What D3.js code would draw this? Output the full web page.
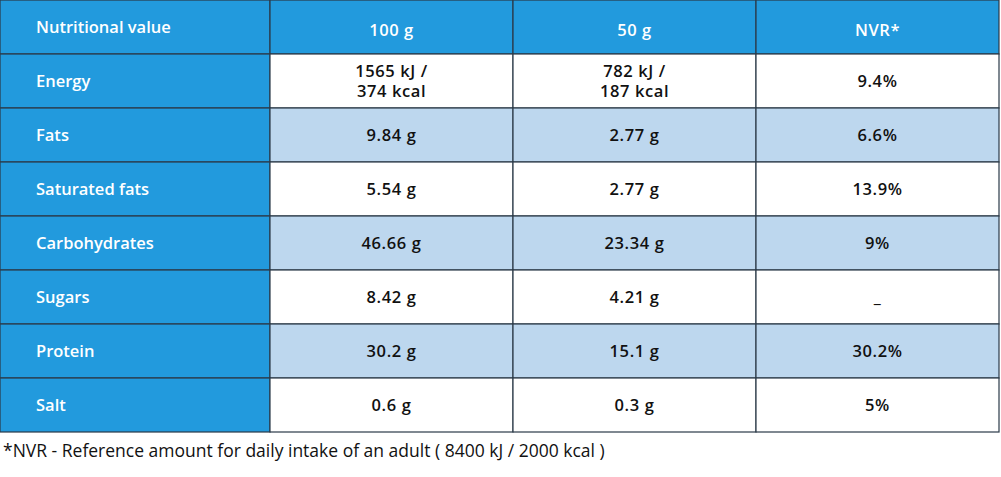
<!DOCTYPE html>
<html><head><meta charset="utf-8">
<script src="https://cdn.jsdelivr.net/npm/d3@7"></script>
<style>body{margin:0;background:#fff}</style></head>
<body><svg id="c" width="1001" height="477"></svg>
<script>
const headers = ["Nutritional value","100 g","50 g","NVR*"];
const nutrients = ["Energy","Fats","Saturated fats","Carbohydrates","Sugars","Protein","Salt"];
const per100 = ["1565 kJ /\n374 kcal","9.84 g","5.54 g","46.66 g","8.42 g","30.2 g","0.6 g"];
const per50 = ["782 kJ /\n187 kcal","2.77 g","2.77 g","23.34 g","4.21 g","15.1 g","0.3 g"];
const nvr = ["9.4%","6.6%","13.9%","9%","_","30.2%","5%"];
const footnote = "*NVR - Reference amount for daily intake of an adult ( 8400 kJ / 2000 kcal )";

const svg = d3.select("#c");
const font = "'Open Sans', 'Noto Sans', sans-serif";
const x = d3.scaleOrdinal().domain([0,1,2,3]).range([0,270,513,756]);
const colW = [270,243,243,243];
const y = d3.scaleBand().domain(d3.range(8)).range([0,432]);
const blue = "#229ADD", light = "#BDD7EE", stroke = "#2b3a48";

const rows = [headers].concat(nutrients.map((n,i)=>[n,per100[i],per50[i],nvr[i]]));
rows.forEach((r,ri)=>{
  r.forEach((t,ci)=>{
    let fill = ri===0||ci===0 ? blue : (ri%2===0 ? light : "#fff");
    const x0 = x(ci), y0 = y(ri), w = colW[ci], h = y.bandwidth();
    svg.append("rect").attr("x",x0).attr("y",y0).attr("width",w).attr("height",h)
      .attr("fill",fill).attr("stroke",stroke).attr("stroke-width",1.2);
    const white = ri===0||ci===0;
    const lines = t.split("\n");
    const txt = svg.append("text").attr("font-family",font).attr("font-weight",600)
      .attr("font-size",16.5).attr("fill",white?"#fff":"#111")
      .attr("text-anchor",ci===0?"start":"middle")
      .attr("letter-spacing",ci===0?0:0.6);
    const tx = ci===0 ? 36 : x0+w/2;
    const baseY = ri===0 ? (ci===0? y0+33 : y0+36) : y0+h/2-(lines.length-1)*10+6;
    lines.forEach((l,li)=>txt.append("tspan").attr("x",tx).attr("y",baseY+li*20).text(l));
  });
});
svg.append("text").attr("x",3).attr("y",457).attr("font-family",font).attr("font-size",17.5)
  .attr("fill","#111").text(footnote);
</script></body></html>
